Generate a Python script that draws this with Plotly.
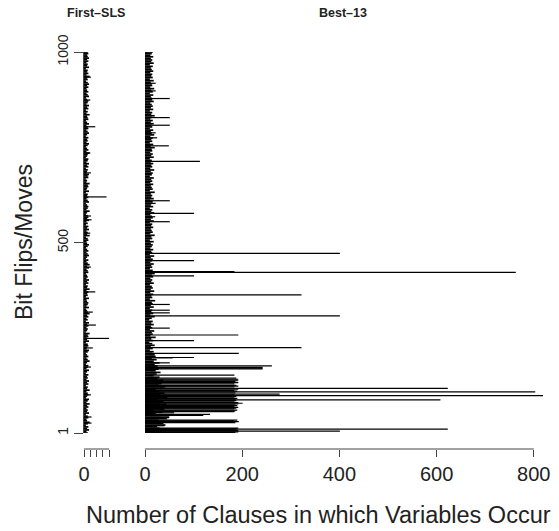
import numpy as np
import plotly.graph_objects as go

# ---------------- data ----------------
# dense short segments, evenly spread over bit flips 1..1000 (bottom -> top)
first_sls_base = [
    6, 4, 8, 5, 7, 3, 6, 9, 5, 4, 7, 6, 3, 8, 5, 6, 4, 7, 5, 9, 4, 6, 8, 3, 5,
    7, 6, 4, 9, 5, 6, 3, 7, 5, 8, 4, 6, 5, 7, 3, 5, 8, 4, 6, 7, 3, 5, 9, 6, 4,
    7, 5, 3, 6, 8, 4, 5, 7, 6, 3, 8, 5, 4, 7, 6, 9, 3, 5, 6, 4, 7, 5, 8, 3, 6,
    4, 7, 5, 9, 6, 5, 3, 8, 4, 6, 7, 5, 4, 8, 3, 6, 5, 7, 4, 9, 5, 6, 3, 7, 5,
    8, 4, 6, 5, 3, 7, 6, 4, 8, 5, 9, 6, 4, 7, 3, 5, 8, 6, 4, 7, 5, 3, 6, 8, 5,
    4, 7, 6, 3, 9, 5, 6, 4, 8, 5, 7, 3, 6, 4, 8, 5, 7, 6, 3, 5, 9, 4, 6, 7, 5,
    3, 8, 6, 4, 7, 5, 6, 3, 8, 4, 5, 7, 6, 9, 4, 5, 3, 7, 6, 8, 4, 5, 6, 3, 7,
    5, 8, 4, 6, 7, 3, 5, 6, 9, 4, 7, 5, 3, 6, 8, 4, 6, 5, 7, 3, 5, 8, 6, 4, 7,
    6, 4, 8, 5, 3, 7, 6, 5, 9, 4, 6, 3, 7, 5, 8, 4, 6, 7, 5, 3, 8, 6, 4, 7, 5,
    4, 7, 5, 8, 6, 3, 6, 5, 9, 4, 7, 5, 6, 3, 8, 5, 6, 4, 7, 5, 8, 6, 5, 7, 6,
]
first_sls_peak_flip = [934, 874, 804, 735, 683, 620, 570, 560, 525, 436,
                       371, 318, 284, 249, 224, 174, 101, 43, 27]
first_sls_peak_count = [11, 10, 18, 10, 11, 36, 11, 12, 10, 11,
                        18, 14, 19, 40, 14, 11, 11, 12, 12]

best13_base = [
    40, 35, 48, 30, 25, 42, 38, 20, 28, 45, 50, 32, 22, 36, 18, 40, 30, 26, 44, 34,
    38, 28, 46, 24, 32, 40, 30, 22, 36, 42, 28, 34, 20, 38, 26, 30, 18, 24, 32, 22,
    28, 16, 26, 20, 30, 18, 24, 14, 22, 20,
    14, 18, 10, 16, 12, 20, 15, 9, 17, 13, 22, 11, 16, 14, 19, 10, 15, 12, 18, 13,
    16, 9, 14, 20, 11, 17, 13, 15, 10, 18, 12, 16, 14, 21, 10, 15, 13, 17, 11, 19,
    12, 16, 14, 10, 18, 13, 15, 11, 17, 14, 20, 12, 16, 10, 15, 13, 18, 11, 14, 16,
    12, 19, 10, 15, 13, 17, 11, 14, 16, 12, 18, 10, 15, 13, 20, 11, 16, 14, 12, 17,
    13, 15, 10, 18, 12, 16, 14, 11, 19, 13, 15, 10, 17, 12, 14, 16, 11, 18, 13, 15,
    12, 20, 10, 16, 14, 12, 17, 11, 15, 13, 18, 10, 14, 16, 12, 19, 11, 15, 13, 17,
    12, 14, 10, 18, 13, 16, 11, 15, 14, 20, 12, 17, 10, 15, 13, 16, 11, 19, 14, 12,
    17, 10, 15, 13, 18, 12, 16, 11, 14, 20, 13, 15, 10, 17, 12, 16, 14, 11, 18, 15,
    14, 12, 17, 10, 16, 13, 19, 11, 15, 14, 12, 18, 10, 16, 13, 15, 11, 17, 14, 12,
    16, 10, 18, 13, 15, 12, 17, 11, 14, 16,
]
best13_peak_flip = [
    918, 898, 878, 828, 808, 788, 775, 754, 713, 610, 603, 577, 568, 555,
    472, 453, 424, 422, 413, 363, 338, 323, 316, 308, 276, 258, 243, 225, 210,
    199, 198, 185, 177, 173, 171, 169,
    153, 145, 142, 140, 138, 136, 133, 130, 126, 124, 122, 118, 116, 113, 111,
    109, 106, 103, 101, 99, 97, 95, 92, 90, 88, 86, 83, 81, 79, 77, 75, 73, 71,
    68, 66, 64, 61, 59, 57, 54, 50, 47, 41, 35, 33, 31, 28, 20, 14, 12, 11, 9,
    7, 6, 4, 2, 1,
]
best13_peak_count = [
    22, 22, 51, 51, 51, 22, 25, 49, 113, 51, 22, 101, 21, 51,
    401, 101, 184, 763, 101, 322, 51, 51, 51, 401, 51, 192, 101, 322, 193,
    101, 57, 51, 261, 242, 242, 242,
    184, 188, 192, 190, 192, 186, 192, 184, 188, 192, 184, 623, 192, 184, 190,
    803, 186, 277, 184, 819, 188, 184, 190, 186, 608, 188, 184, 192, 201, 192,
    186, 190, 184, 192, 188, 184, 190, 186, 184, 60, 134, 120, 49, 190, 184,
    193, 186, 40, 192, 190, 623, 188, 192, 401, 192, 186, 49,
]

x_ticks_left = [0, 10, 20, 30, 40]
x_ticks_right = [0, 200, 400, 600, 800]
y_ticks = [1, 500, 1000]


def segments(flips, counts):
    xs, ys = [], []
    for f, c in zip(flips, counts):
        xs += [0, c, None]
        ys += [f, f, None]
    return xs, ys


W, H = 559, 531
FONT = "Liberation Sans, Arial, Helvetica, sans-serif"
INK = "#000000"
AX = "#444444"
TXT = "#222222"

fig = go.Figure()

for base, pf, pc, xa, ya in [
    (first_sls_base, first_sls_peak_flip, first_sls_peak_count, "x", "y"),
    (best13_base, best13_peak_flip, best13_peak_count, "x2", "y2"),
]:
    bf = np.linspace(1, 1000, len(base))
    bx, by = segments(bf, base)
    fig.add_trace(go.Scatter(x=bx, y=by, mode="lines", xaxis=xa, yaxis=ya,
                             line=dict(color=INK, width=1.7), hoverinfo="skip",
                             showlegend=False))
    px_, py_ = segments(pf, pc)
    fig.add_trace(go.Scatter(x=px_, y=py_, mode="lines", xaxis=xa, yaxis=ya,
                             line=dict(color=INK, width=1.2), hoverinfo="skip",
                             showlegend=False))

y_dom = [(H - 433) / H, (H - 52) / H]
x_pos = (H - 449) / H

common_x = dict(anchor="free", position=x_pos, showgrid=False, zeroline=False,
                showline=False, ticks="outside", ticklen=7, tickwidth=1,
                tickcolor=AX, tickfont=dict(family=FONT, size=20, color=TXT),
                fixedrange=True, automargin=False)

fig.update_layout(
    template="none",
    width=W, height=H,
    margin=dict(l=0, r=0, t=0, b=0, pad=0, autoexpand=False),
    paper_bgcolor="white", plot_bgcolor="white",
    xaxis=dict(domain=[84 / W, 110 / W], range=[0, 41.5],
               tickvals=x_ticks_left,
               ticktext=[str(x_ticks_left[0])] + [""] * (len(x_ticks_left) - 1),
               **common_x),
    xaxis2=dict(domain=[145 / W, 543 / W], range=[0, 819],
                tickvals=x_ticks_right, ticktext=[str(v) for v in x_ticks_right],
                **common_x),
    yaxis=dict(domain=y_dom, range=[1, 1000], anchor="x", showgrid=False,
               zeroline=False, showline=True, linecolor=AX, linewidth=1,
               ticks="outside", ticklen=9, tickcolor=AX, tickwidth=1,
               tickvals=y_ticks, ticktext=[str(v) for v in y_ticks],
               tickangle=-90, tickfont=dict(family=FONT, size=14, color=TXT),
               fixedrange=True, automargin=False),
    yaxis2=dict(domain=y_dom, range=[1, 1000], anchor="x2", visible=False,
                fixedrange=True, automargin=False),
    shapes=[
        dict(type="line", xref="x", yref="paper", x0=x_ticks_left[0],
             x1=x_ticks_left[-1], y0=x_pos, y1=x_pos,
             line=dict(color=AX, width=1)),
        dict(type="line", xref="x2", yref="paper", x0=x_ticks_right[0],
             x1=x_ticks_right[-1], y0=x_pos, y1=x_pos,
             line=dict(color=AX, width=1)),
    ],
    annotations=[
        dict(text="<b>First–SLS</b>", x=96 / W, y=1 - 13 / H, xref="paper",
             yref="paper", showarrow=False, xanchor="center", yanchor="middle",
             font=dict(family=FONT, size=12.5, color=TXT)),
        dict(text="<b>Best–13</b>", x=343 / W, y=1 - 13 / H, xref="paper",
             yref="paper", showarrow=False, xanchor="center", yanchor="middle",
             font=dict(family=FONT, size=12.5, color=TXT)),
        dict(text="Bit Flips/Moves", x=24 / W, y=(H - 242) / H, xref="paper",
             yref="paper", showarrow=False, textangle=-90, xanchor="center",
             yanchor="middle", font=dict(family=FONT, size=23, color=TXT)),
        dict(text="Number of Clauses in which Variables Occur", x=318 / W,
             y=(H - 515) / H, xref="paper", yref="paper", showarrow=False,
             xanchor="center", yanchor="middle",
             font=dict(family=FONT, size=23.5, color=TXT)),
    ],
)

fig.write_html("out.html",
               config={"displayModeBar": False, "staticPlot": True},
               post_script="document.body.style.margin='0px';"
                           "document.body.style.padding='0px';")
